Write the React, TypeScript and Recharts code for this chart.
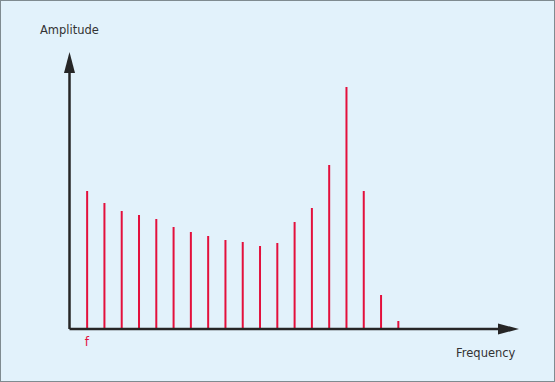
import React from "react";
import { BarChart, Bar, XAxis, YAxis, ReferenceLine } from "recharts";

// harmonic index along the frequency axis
const harmonics = [1, 2, 3, 4, 5, 6, 7, 8, 9, 10, 11, 12, 13, 14, 15, 16, 17, 18, 19];
// amplitude of each line (arbitrary units)
const amplitudes = [138, 126, 118, 114, 110, 102, 97, 93, 89, 87, 83, 86, 107, 121, 164, 242, 138, 34, 8];
const xTicks = [1];
const xTickLabels = ["f"];

const data = harmonics.map((h, i) => ({ h, amp: amplitudes[i] }));

const AXIS_COLOR = "#262626";
const LINE_COLOR = "#e3103c";

// axis line with a filled arrowhead at the (x2, y2) end
function AxisArrow(props: any) {
  const { x1, y1, x2, y2 } = props;
  const dx = x2 - x1;
  const dy = y2 - y1;
  const len = Math.sqrt(dx * dx + dy * dy) || 1;
  const ux = dx / len;
  const uy = dy / len;
  const head = 21;
  const half = 5.5;
  const bx = x2 - ux * head;
  const by = y2 - uy * head;
  const px = -uy;
  const py = ux;
  return (
    <g>
      <line x1={x1} y1={y1} x2={bx} y2={by} stroke={AXIS_COLOR} strokeWidth={2.5} />
      <polygon
        points={`${x2},${y2} ${bx + px * half},${by + py * half} ${bx - px * half},${by - py * half}`}
        fill={AXIS_COLOR}
      />
    </g>
  );
}

const labelStyle: React.CSSProperties = {
  position: "absolute",
  fontFamily: "'DejaVu Sans', Verdana, sans-serif",
  fontSize: 11.5,
  color: "#333",
  lineHeight: "14px",
  whiteSpace: "nowrap",
};

export default function App() {
  return (
    <div
      style={{
        position: "fixed",
        left: 0,
        top: 0,
        width: 555,
        height: 382,
        background: "#e2f2fb",
        boxShadow: "inset 0 0 0 1px #7f8b90",
      }}
    >
      <BarChart
        width={555}
        height={382}
        data={data}
        margin={{ top: 52, right: 36, bottom: 0, left: 69.5 }}
        style={{ position: "absolute", left: 0, top: 0 }}
      >
        <XAxis
          dataKey="h"
          type="number"
          domain={[0, 26]}
          ticks={xTicks}
          tickFormatter={(v: number) => xTickLabels[xTicks.indexOf(v)] ?? ""}
          axisLine={false}
          tickLine={false}
          height={53}
          tick={{ fill: LINE_COLOR, fontSize: 12, fontFamily: "'DejaVu Sans', Verdana, sans-serif" }}
          allowDataOverflow
        />
        <YAxis hide domain={[0, 277]} allowDataOverflow />
        <Bar dataKey="amp" barSize={2} fill={LINE_COLOR} isAnimationActive={false} />
        <ReferenceLine
          segment={[{ x: 0, y: 0 }, { x: 0, y: 277 }]}
          shape={AxisArrow}
          ifOverflow="visible"
        />
        <ReferenceLine
          segment={[{ x: 0, y: 0 }, { x: 26, y: 0 }]}
          shape={AxisArrow}
          ifOverflow="visible"
        />
      </BarChart>
      <div style={{ ...labelStyle, left: 40, top: 23 }}>Amplitude</div>
      <div style={{ ...labelStyle, left: 456, top: 346 }}>Frequency</div>
    </div>
  );
}
